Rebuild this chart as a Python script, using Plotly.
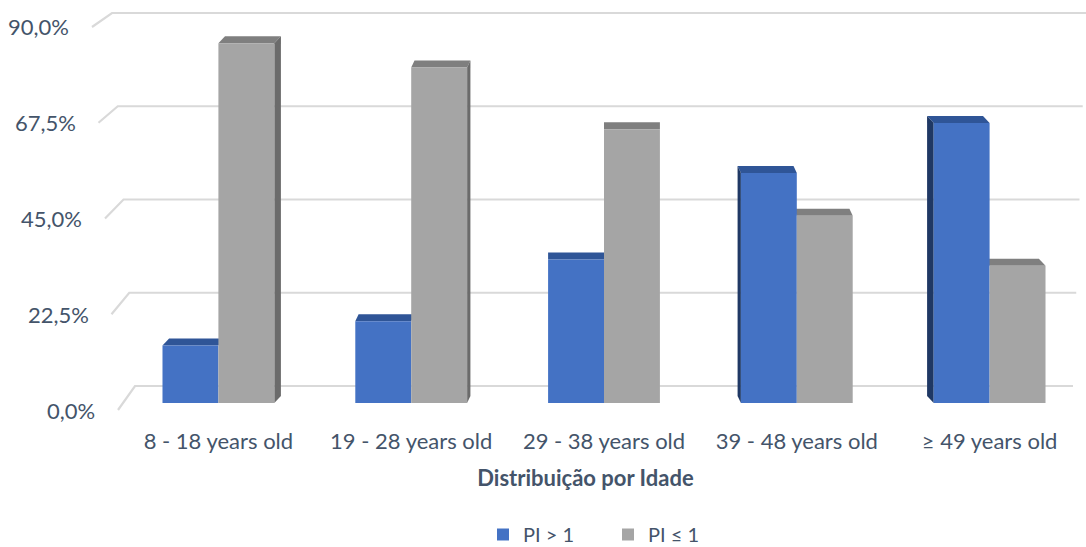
import plotly.graph_objects as go

# ---- data -------------------------------------------------------------
categories = ["8 - 18 years old", "19 - 28 years old", "29 - 38 years old",
              "39 - 48 years old", "≥ 49 years old"]
pi_above_1 = [13.8, 19.6, 34.4, 55.1, 67.1]
pi_at_most_1 = [86.2, 80.4, 65.6, 44.9, 32.9]
y_ticks = [0.0, 22.5, 45.0, 67.5, 90.0]
series_names = ["PI > 1", "PI ≤ 1"]
x_title = "Distribuição por Idade"

# ---- styling ----------------------------------------------------------
BLUE = dict(front="#4472C4", top="#2F5597", side="#1F3864")
GRAY = dict(front="#A5A5A5", top="#7F7F7F", side="#6B6B6B")
TEXT = "#44546A"
GRID = "#D9D9D9"
FONT = "Lato"

# ---- geometry (pixels) ------------------------------------------------
FIG_W, FIG_H = 1086, 547
M_L, M_R, M_T, M_B = 85, 0, 7, 127
CAT_PX = 192.8          # width of one category slot
FIRST_CAT_PX = 218.4    # centre of the first category
BASE_PX = 403           # baseline of the bars
UNIT_PX = 4.172         # pixels per percentage point
BAR_W = 0.29            # bar width in category units
DEPTH_PX = 7            # vertical depth of the bar tops
SKEW_PX = 3.3           # horizontal depth shift per category from the centre
Y_TOP = 90.0

plot_w = FIG_W - M_L - M_R
plot_h = FIG_H - M_T - M_B
x_min = (M_L - FIRST_CAT_PX) / CAT_PX
x_max = x_min + plot_w / CAT_PX
y_min = (BASE_PX - (FIG_H - M_B)) / UNIT_PX
y_max = y_min + plot_h / UNIT_PX


def xd(px):
    return (px - FIRST_CAT_PX) / CAT_PX


def yd(px):
    return (BASE_PX - px) / UNIT_PX


def xp(px):
    """pixel column -> paper x"""
    return (px - M_L) / plot_w


def yp(px):
    """pixel row -> paper y"""
    return ((FIG_H - M_B) - px) / plot_h


def path(points):
    return "M " + " L ".join(f"{x:.4f},{y:.4f}" for x, y in points) + " Z"


fig = go.Figure()

x_idx = list(range(len(categories)))
fig.add_trace(go.Bar(x=x_idx, y=pi_above_1, name=series_names[0],
                     width=BAR_W, offset=-BAR_W,
                     marker=dict(color=BLUE["front"], line=dict(width=0))))
fig.add_trace(go.Bar(x=x_idx, y=pi_at_most_1, name=series_names[1],
                     width=BAR_W, offset=0,
                     marker=dict(color=GRAY["front"], line=dict(width=0))))

shapes = []
annotations = []

# back wall gridlines with the short diagonal floor edge on the left
for v in y_ticks:
    t = v / Y_TOP
    front = (xd(118 - 26 * t), yd(410 - 383 * t))
    back_y = yd(386 - 373 * t)
    back = (xd(135 - 23 * t), back_y)
    right = (xd(1073 + 13 * t), back_y)
    shapes.append(dict(type="path", xref="x", yref="y", layer="below",
                       path="M {:.4f},{:.4f} L {:.4f},{:.4f} L {:.4f},{:.4f}".format(
                           *front, *back, *right),
                       line=dict(color=GRID, width=2.2)))
    label = f"{v:.1f}%".replace(".", ",")
    annotations.append(dict(x=xp(97 - 26 * t), y=yp(410 - 383 * t),
                            xref="paper", yref="paper",
                            xanchor="right", yanchor="middle",
                            text=label, showarrow=False,
                            font=dict(family=FONT, size=22, color=TEXT)))

# 3-D tops and outer sides of the bars
dy = DEPTH_PX / UNIT_PX
for i in x_idx:
    dx = SKEW_PX * (2 - i) / CAT_PX
    bars = [(i - BAR_W, i, pi_above_1[i], BLUE), (i, i + BAR_W, pi_at_most_1[i], GRAY)]
    for x0, x1, v, col in bars:
        shapes.append(dict(type="path", xref="x", yref="y", layer="below",
                           path=path([(x0, v), (x1, v), (x1 + dx, v + dy), (x0 + dx, v + dy)]),
                           fillcolor=col["top"], line=dict(width=0)))
    if dx > 0:
        x0, x1, v, col = bars[1]
        shapes.append(dict(type="path", xref="x", yref="y", layer="below",
                           path=path([(x1, 0), (x1, v), (x1 + dx, v + dy), (x1 + dx, dy)]),
                           fillcolor=col["side"], line=dict(width=0)))
    elif dx < 0:
        x0, x1, v, col = bars[0]
        shapes.append(dict(type="path", xref="x", yref="y", layer="below",
                           path=path([(x0, 0), (x0, v), (x0 + dx, v + dy), (x0 + dx, dy)]),
                           fillcolor=col["side"], line=dict(width=0)))

fig.update_layout(
    width=FIG_W, height=FIG_H,
    margin=dict(l=M_L, r=M_R, t=M_T, b=M_B, autoexpand=False),
    paper_bgcolor="white", plot_bgcolor="white",
    barmode="overlay",
    font=dict(family=FONT, color=TEXT),
    shapes=shapes, annotations=annotations,
    showlegend=True,
    legend=dict(orientation="h", x=xp(608), xanchor="center",
                y=yp(515), yanchor="top",
                font=dict(family=FONT, size=20, color=TEXT),
                itemwidth=30, entrywidth=80, traceorder="normal"),
    xaxis=dict(range=[x_min, x_max], tickvals=x_idx, ticktext=categories,
               showgrid=False, zeroline=False, showline=False, ticks="",
               ticklabelstandoff=6,
               tickfont=dict(family=FONT, size=22, color=TEXT),
               title=dict(text=f"<b>{x_title}</b>", standoff=17,
                          font=dict(family=FONT, size=22, color=TEXT))),
    yaxis=dict(range=[y_min, y_max], showgrid=False, zeroline=False,
               showline=False, showticklabels=False, ticks=""),
)

fig.write_html("out.html")
